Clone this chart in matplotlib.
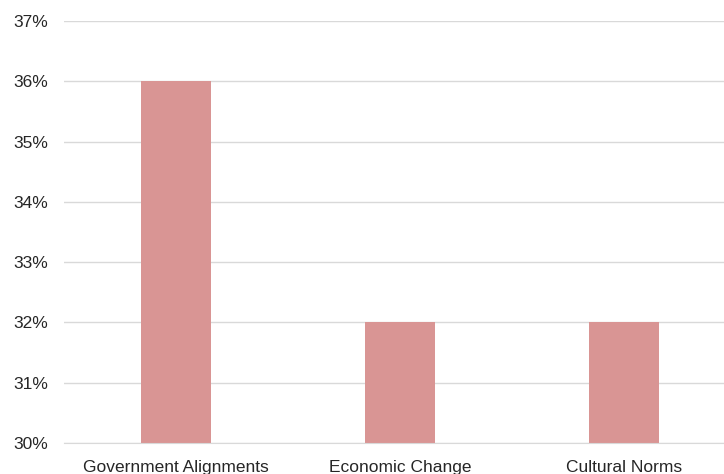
import matplotlib.pyplot as plt
from matplotlib.ticker import FuncFormatter

categories = ['Government Alignments', 'Economic Change', 'Cultural Norms']
values = [36, 32, 32]
yticks = [30, 31, 32, 33, 34, 35, 36, 37]

plt.rcParams['font.family'] = ['Liberation Sans', 'DejaVu Sans']

fig = plt.figure(figsize=(7.24, 4.74), dpi=100)
ax = fig.add_axes((64 / 724, 31 / 474, 660 / 724, 422 / 474))

x = range(len(categories))
ax.bar(x, values, width=0.31, color='#d99594', zorder=2)

ax.set_ylim(30, 37)
ax.set_yticks(yticks)
ax.yaxis.set_major_formatter(FuncFormatter(lambda v, p: f'{v:.0f}%'))
ax.set_xlim(-0.5, 660 / 224 - 0.5)
ax.set_xticks(list(x))
ax.set_xticklabels(categories)

ax.grid(axis='y', color='#d9d9d9', linewidth=1, zorder=0)
for s in ['top', 'right', 'left']:
    ax.spines[s].set_visible(False)
ax.spines['bottom'].set_color('#d9d9d9')
ax.tick_params(axis='both', length=0, labelsize=12.5, colors='#262626')
ax.tick_params(axis='y', pad=11.5)
ax.tick_params(axis='x', pad=12)

fig.savefig('out.png', dpi=100)
